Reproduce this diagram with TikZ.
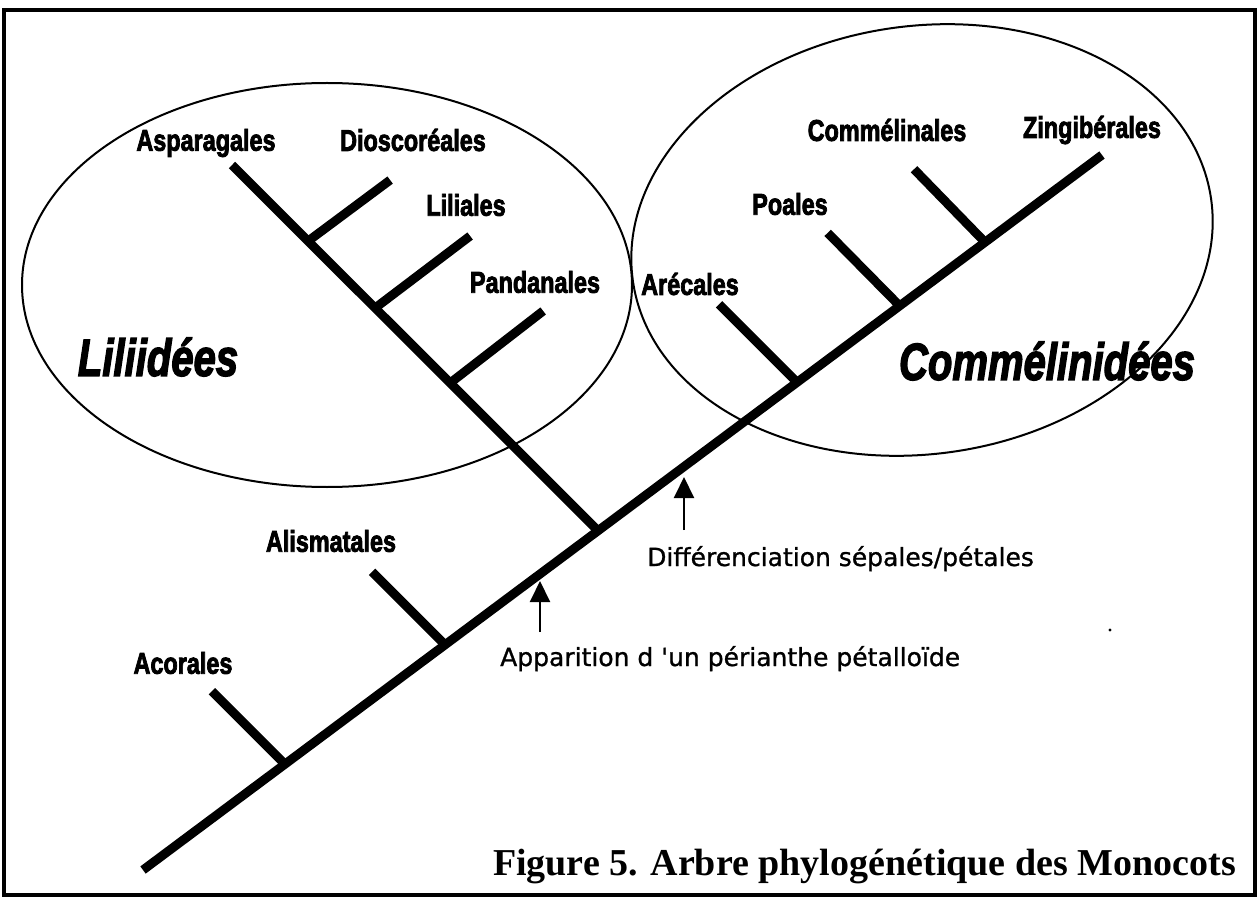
\documentclass[tikz,border=0pt]{standalone}
\usepackage{fontspec}
\setmainfont{Liberation Serif}
\newfontfamily\labelfont{Liberation Sans}[FakeBold=3]
\newfontfamily\notefont{DejaVu Sans}[FakeBold=1]
\usetikzlibrary{calc,arrows.meta}

% horizontal squeeze for the heavy, narrow clade labels
\newcommand\squeeze[2]{\scalebox{#1}[1]{#2}}

\tikzset{
  trunk/.style={line width=9pt},
  clade/.style={line width=2pt},
  frame/.style={line width=3.5pt},
  taxon/.style={inner sep=0pt, font=\labelfont\bfseries\fontsize{30}{30}\selectfont},
  group/.style={inner sep=0pt, font=\labelfont\bfseries\itshape\fontsize{52}{52}\selectfont},
  note/.style={inner sep=0pt, font=\notefont\fontsize{25}{25}\selectfont},
  caption/.style={inner sep=0pt, font=\bfseries\fontsize{38}{38}\selectfont},
  marker/.style={line width=2pt, -{Triangle[width=20pt,length=21pt]}}
}

\begin{document}
\begin{tikzpicture}[x=1pt, y=-1pt]
\useasboundingbox (0,0) rectangle (1259,904);

% outer frame
\draw[frame] (4,10) rectangle (1255,895);

% clade ellipses
\draw[clade] (327,285) ellipse [x radius=305, y radius=202];
\draw[clade, rotate around={8:(922,240)}] (922,240) ellipse [x radius=292, y radius=214];

% main axis of the tree
\coordinate (root) at (143,870);
\coordinate (tZin) at (1102,155);
\coordinate (jAco) at ($(root)!0.148!(tZin)$);
\coordinate (jAli) at ($(root)!0.315!(tZin)$);
\coordinate (jLil) at ($(root)!0.4745!(tZin)$);
\coordinate (jAre) at ($(root)!0.682!(tZin)$);
\coordinate (jPoa) at ($(root)!0.789!(tZin)$);
\coordinate (jCom) at ($(root)!0.878!(tZin)$);

% Liliid branch and its side branches
\coordinate (tAsp) at (232,165);
\coordinate (jDio) at ($(jLil)!0.792!(tAsp)$);
\coordinate (jLis) at ($(jLil)!0.609!(tAsp)$);
\coordinate (jPan) at ($(jLil)!0.404!(tAsp)$);

% branch tips
\coordinate (tAco) at ($(jAco)+(-73,-73)$);
\coordinate (tAli) at ($(jAli)+(-73,-73)$);
\coordinate (tAre) at ($(jAre)+(-78,-78)$);
\coordinate (tPoa) at ($(jPoa)+(-72,-73)$);
\coordinate (tCom) at ($(jCom)+(-71,-73)$);
\coordinate (tDio) at ($(jDio)+(82,-61)$);
\coordinate (tLis) at ($(jLis)+(95,-72)$);
\coordinate (tPan) at ($(jPan)+(93,-72)$);

\draw[trunk] (root) -- (tZin);
\draw[trunk] (jAco) -- (tAco);
\draw[trunk] (jAli) -- (tAli);
\draw[trunk] (jLil) -- (tAsp);
\draw[trunk] (jAre) -- (tAre);
\draw[trunk] (jPoa) -- (tPoa);
\draw[trunk] (jCom) -- (tCom);
\draw[trunk] (jDio) -- (tDio);
\draw[trunk] (jLis) -- (tLis);
\draw[trunk] (jPan) -- (tPan);

% order names
\node[taxon] (lAco) at (183,663) {\squeeze{0.78}{Acorales}};
\node[taxon] (lAli) at (331,541) {\squeeze{0.78}{Alismatales}};
\node[taxon] (lAsp) at (206,143) {\squeeze{0.78}{Asparagales}};
\node[taxon] (lDio) at (413,140) {\squeeze{0.78}{Dioscoréales}};
\node[taxon] (lLis) at (466,205) {\squeeze{0.78}{Liliales}};
\node[taxon] (lPan) at (535,282) {\squeeze{0.78}{Pandanales}};
\node[taxon] (lAre) at (690,284) {\squeeze{0.78}{Arécales}};
\node[taxon] (lPoa) at (790,204) {\squeeze{0.78}{Poales}};
\node[taxon] (lCom) at (887,130) {\squeeze{0.78}{Commélinales}};
\node[taxon] (lZin) at (1092,130) {\squeeze{0.78}{Zingibérales}};

% clade names
\node[group] (gLil) at (158,357) {\squeeze{0.77}{Liliidées}};
\node[group] (gCom) at (1047,361) {\squeeze{0.77}{Commélinidées}};

% character changes on the axis
\coordinate (aPer) at (540,632);
\coordinate (hPer) at (540,581);
\coordinate (aDif) at (684,530);
\coordinate (hDif) at (684,477);
\draw[marker] (aPer) -- (hPer);
\draw[marker] (aDif) -- (hDif);
\node[note, anchor=base west] (nDif) at (647,566) {Différenciation sépales/pétales};
\node[note, anchor=base west] (nPer) at (500,666) {Apparition d 'un périanthe pétalloïde};

% caption
\node[caption, anchor=base east] (cap) at (1236,875) {Figure 5. Arbre phylogénétique des Monocots};

% small speck
\fill (1110,630) circle [radius=1.6];
\end{tikzpicture}
\end{document}
